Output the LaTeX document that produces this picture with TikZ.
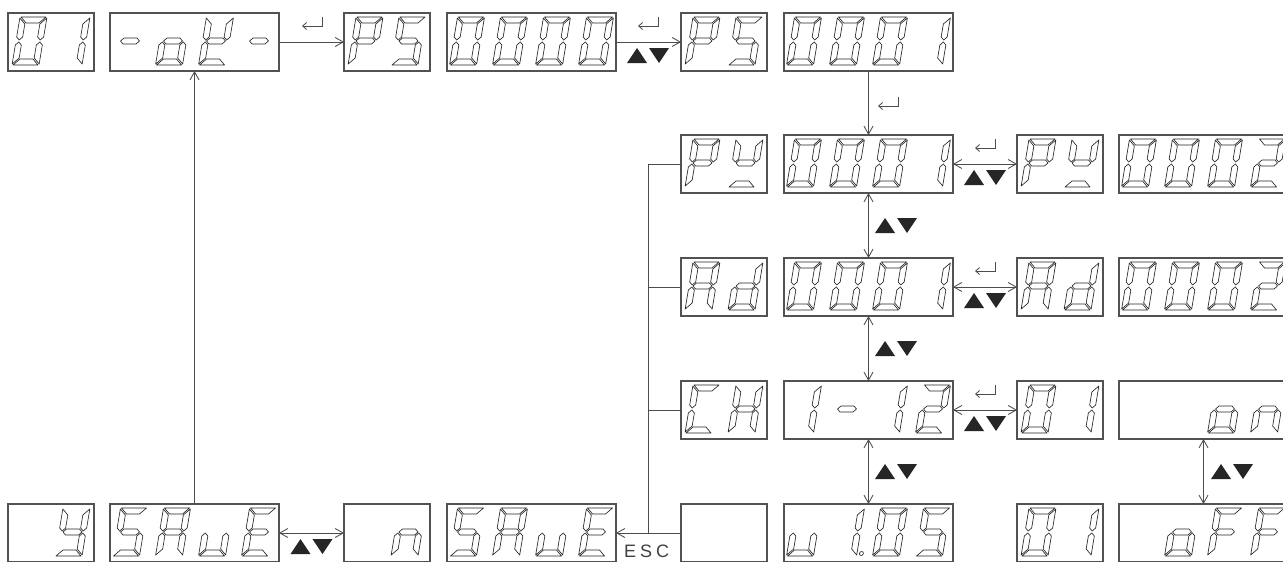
\documentclass[tikz,border=0pt]{standalone}
\usepackage{fontspec}
\newfontfamily\escfont[LetterSpace=22]{Liberation Sans}
\usetikzlibrary{arrows.meta}
\tikzset{
  box2/.style={draw=black!68, line width=1.1pt, minimum width=86pt, minimum height=58pt, inner sep=0pt, outer sep=0pt, fill=white},
  box4/.style={box2, minimum width=169pt},
  segst/.style={draw=black!85, line width=0.65pt, fill=white, line join=round},
  conn/.style={draw=black!70, line width=0.85pt},
  >={Straight Barb[length=8pt,width=9pt]},
  enterkey/.pic={\draw[conn, -{Straight Barb[length=4pt,width=7pt]}] (20,0) -- (20,9) -- (0,9);},
  updown/.pic={\fill[black!85] (0,15) -- (10,0) -- (20,15) -- cycle;
               \fill[black!85] (22,0) -- (42,0) -- (32,15) -- cycle;},
  esctext/.style={font=\escfont\fontsize{18}{18}\selectfont, text=black!75, inner sep=0pt}
}
% seven-segment pieces (local frame, v up), W=27, H=48, t=6
\newcommand\segpa{\filldraw[segst] (1,48) -- (26,48) -- (20,42) -- (7,42) -- cycle;}
\newcommand\segpd{\filldraw[segst] (1,0) -- (26,0) -- (20,6) -- (7,6) -- cycle;}
\newcommand\segpg{\filldraw[segst] (4,24) -- (7,27) -- (20,27) -- (23,24) -- (20,21) -- (7,21) -- cycle;}
\newcommand\segpf{\filldraw[segst] (0,47) -- (6,41) -- (6,28) -- (3,25) -- (0,28) -- cycle;}
\newcommand\segpb{\filldraw[segst] (27,47) -- (21,41) -- (21,28) -- (24,25) -- (27,28) -- cycle;}
\newcommand\segpe{\filldraw[segst] (0,1) -- (6,7) -- (6,20) -- (3,23) -- (0,20) -- cycle;}
\newcommand\segpc{\filldraw[segst] (27,1) -- (21,7) -- (21,20) -- (24,23) -- (27,20) -- cycle;}
\newcommand\segpp{\filldraw[segst] (31.5,2.5) circle (2);}
% glyph sets
\def\Gzero{a,b,c,d,e,f}
\def\Gone{b,c}
\def\Gtwo{a,b,d,e,g}
\def\GS{a,c,d,f,g}
\def\GP{a,b,e,f,g}
\def\GA{a,b,c,e,f,g}
\def\Gd{b,c,d,e,g}
\def\GC{a,d,e,f}
\def\GH{b,c,e,f,g}
\def\GE{a,d,e,f,g}
\def\GF{a,e,f,g}
\def\Go{c,d,e,g}
\def\Gn{c,e,g}
\def\Gu{c,d,e}
\def\Gy{b,c,d,f,g}
\def\Gm{g}
\def\Gt{b,d,e,f,g}
\def\Gq{b,d,f,g}
% #1 box left, #2 box top, #3 margin, #4 slot, #5 segment list
\newcommand\dg[5]{%
  \edef\dglist{#5}%
  \begin{scope}[shift={({#1+#3+43*(#4-1)},{#2+52})}, xslant=0.1667, x=1pt, y=1pt]
    \foreach \s in \dglist {\csname segp\s\endcsname}
  \end{scope}}
\begin{document}
\begin{tikzpicture}[x=1pt,y=-1pt]
\useasboundingbox (0,0) rectangle (1283,562);
\clip (0,0) rectangle (1283,562);
\fill[white] (0,0) rectangle (1283,562);

\coordinate (bj) at (648,533);

% ---------- boxes ----------
% row 1 (top 13)
\node[box2] (r1c1) at (51,42) {};
\node[box4] (r1c2) at (194.5,42) {};
\node[box2] (r1c3) at (387,42) {};
\node[box4] (r1c4) at (531.5,42) {};
\node[box2] (r1c5) at (724,42) {};
\node[box4] (r1c6) at (868.5,42) {};
% row 2 (top 135)
\node[box2] (r2c5) at (724,164) {};
\node[box4] (r2c6) at (868.5,164) {};
\node[box2] (r2c7) at (1060,164) {};
\node[box4] (r2c8) at (1203.5,164) {};
% row 3 (top 258)
\node[box2] (r3c5) at (724,287) {};
\node[box4] (r3c6) at (868.5,287) {};
\node[box2] (r3c7) at (1060,287) {};
\node[box4] (r3c8) at (1203.5,287) {};
% row 4 (top 381)
\node[box2] (r4c5) at (724,410) {};
\node[box4] (r4c6) at (868.5,410) {};
\node[box2] (r4c7) at (1060,410) {};
\node[box4] (r4c8) at (1203.5,410) {};
% row 5 (top 504)
\node[box2] (r5c1) at (51,533) {};
\node[box4] (r5c2) at (194.5,533) {};
\node[box2] (r5c3) at (387,533) {};
\node[box4] (r5c4) at (531.5,533) {};
\node[box2] (r5c5) at (724,533) {};
\node[box4] (r5c6) at (868.5,533) {};
\node[box2] (r5c7) at (1060,533) {};
\node[box4] (r5c8) at (1203.5,533) {};

% ---------- glyphs ----------
% row 1
\dg{8}{13}{4}{1}{\Gzero} \dg{8}{13}{4}{2}{\Gone}
\dg{110}{13}{2.5}{1}{\Gm} \dg{110}{13}{2.5}{2}{\Go} \dg{110}{13}{2.5}{3}{\Gt} \dg{110}{13}{2.5}{4}{\Gm}
\dg{344}{13}{4}{1}{\GP} \dg{344}{13}{4}{2}{\GS}
\dg{447}{13}{2.5}{1}{\Gzero} \dg{447}{13}{2.5}{2}{\Gzero} \dg{447}{13}{2.5}{3}{\Gzero} \dg{447}{13}{2.5}{4}{\Gzero}
\dg{681}{13}{4}{1}{\GP} \dg{681}{13}{4}{2}{\GS}
\dg{784}{13}{2.5}{1}{\Gzero} \dg{784}{13}{2.5}{2}{\Gzero} \dg{784}{13}{2.5}{3}{\Gzero} \dg{784}{13}{2.5}{4}{\Gone}
% row 2
\dg{681}{135}{4}{1}{\GP} \dg{681}{135}{4}{2}{\Gq}
\dg{784}{135}{2.5}{1}{\Gzero} \dg{784}{135}{2.5}{2}{\Gzero} \dg{784}{135}{2.5}{3}{\Gzero} \dg{784}{135}{2.5}{4}{\Gone}
\dg{1017}{135}{4}{1}{\GP} \dg{1017}{135}{4}{2}{\Gq}
\dg{1119}{135}{2.5}{1}{\Gzero} \dg{1119}{135}{2.5}{2}{\Gzero} \dg{1119}{135}{2.5}{3}{\Gzero} \dg{1119}{135}{2.5}{4}{\Gtwo}
% row 3
\dg{681}{258}{4}{1}{\GA} \dg{681}{258}{4}{2}{\Gd}
\dg{784}{258}{2.5}{1}{\Gzero} \dg{784}{258}{2.5}{2}{\Gzero} \dg{784}{258}{2.5}{3}{\Gzero} \dg{784}{258}{2.5}{4}{\Gone}
\dg{1017}{258}{4}{1}{\GA} \dg{1017}{258}{4}{2}{\Gd}
\dg{1119}{258}{2.5}{1}{\Gzero} \dg{1119}{258}{2.5}{2}{\Gzero} \dg{1119}{258}{2.5}{3}{\Gzero} \dg{1119}{258}{2.5}{4}{\Gtwo}
% row 4
\dg{681}{381}{4}{1}{\GC} \dg{681}{381}{4}{2}{\GH}
\dg{784}{381}{2.5}{1}{\Gone} \dg{784}{381}{2.5}{2}{\Gm} \dg{784}{381}{2.5}{3}{\Gone} \dg{784}{381}{2.5}{4}{\Gtwo}
\dg{1017}{381}{4}{1}{\Gzero} \dg{1017}{381}{4}{2}{\Gone}
\dg{1119}{381}{2.5}{3}{\Go} \dg{1119}{381}{2.5}{4}{\Gn}
% row 5
\dg{8}{504}{4}{2}{\Gy}
\dg{110}{504}{2.5}{1}{\GS} \dg{110}{504}{2.5}{2}{\GA} \dg{110}{504}{2.5}{3}{\Gu} \dg{110}{504}{2.5}{4}{\GE}
\dg{344}{504}{4}{2}{\Gn}
\dg{447}{504}{2.5}{1}{\GS} \dg{447}{504}{2.5}{2}{\GA} \dg{447}{504}{2.5}{3}{\Gu} \dg{447}{504}{2.5}{4}{\GE}
\dg{784}{504}{2.5}{1}{\Gu} \dg{784}{504}{2.5}{2}{b,c,p} \dg{784}{504}{2.5}{3}{\Gzero} \dg{784}{504}{2.5}{4}{\GS}
\dg{1017}{504}{4}{1}{\Gzero} \dg{1017}{504}{4}{2}{\Gone}
\dg{1119}{504}{2.5}{2}{\Go} \dg{1119}{504}{2.5}{3}{\GF} \dg{1119}{504}{2.5}{4}{\GF}

% ---------- connectors ----------
\draw[conn,->] (r1c2.east) -- (r1c3.west);
\draw[conn,->] (r1c4.east) -- (r1c5.west);
\draw[conn,->] (r1c6.south) -- (r2c6.north);
\draw[conn,<->] (r2c6.east) -- (r2c7.west);
\draw[conn,<->] (r3c6.east) -- (r3c7.west);
\draw[conn,<->] (r4c6.east) -- (r4c7.west);
\draw[conn,<->] (r2c6.south) -- (r3c6.north);
\draw[conn,<->] (r3c6.south) -- (r4c6.north);
\draw[conn,<->] (r4c6.south) -- (r5c6.north);
\draw[conn,<->] (r4c8.south) -- (r5c8.north);
\draw[conn,<->] (r5c2.east) -- (r5c3.west);
\draw[conn,->] (r5c2.north) -- (r1c2.south);
\draw[conn] (r2c5.west) -- (r2c5.west -| bj) -- (bj);
\draw[conn] (r3c5.west) -- (r3c5.west -| bj);
\draw[conn] (r4c5.west) -- (r4c5.west -| bj);
\draw[conn] (r5c5.west) -- (bj);
\draw[conn,->] (bj) -- (r5c4.east);

% ---------- key symbols ----------
\pic at (302,17) {enterkey};
\pic at (638,17) {enterkey};
\pic at (627,48) {updown};
\pic at (878,97) {enterkey};
\pic at (975,139) {enterkey};
\pic at (964,170) {updown};
\pic at (975,262) {enterkey};
\pic at (964,293) {updown};
\pic at (975,385) {enterkey};
\pic at (964,416) {updown};
\pic at (875,218) {updown};
\pic at (875,341) {updown};
\pic at (875,464) {updown};
\pic at (1211,464) {updown};
\pic at (290.5,539) {updown};

\node[esctext, anchor=north west] (esc) at (624,545) {ESC};
\end{tikzpicture}
\end{document}
